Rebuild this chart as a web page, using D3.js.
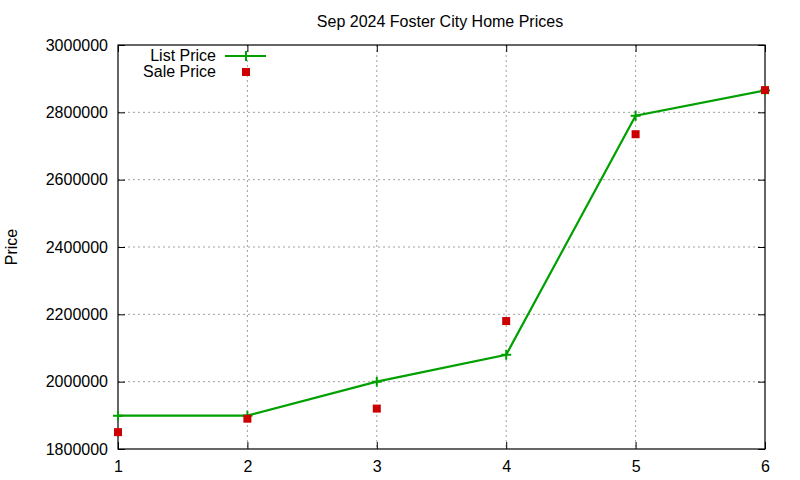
<!DOCTYPE html>
<html><head><meta charset="utf-8">
<script src="https://cdn.jsdelivr.net/npm/d3@7"></script>
<style>body{margin:0;background:#fff}svg{display:block}text{font-family:"Liberation Sans",Arial,sans-serif;fill:#000}</style>
</head><body><svg id="c" width="800" height="480"></svg>
<script>
const categories = [1, 2, 3, 4, 5, 6];
const listPrice = [1899000, 1899000, 2000000, 2080000, 2790000, 2865000];
const salePrice = [1850000, 1890000, 1920000, 2180000, 2735000, 2866000];
const yTicks = [1800000, 2000000, 2200000, 2400000, 2600000, 2800000, 3000000];
const title = "Sep 2024 Foster City Home Prices";

const svg = d3.select("#c");
const L = 118, R = 765, T = 45, B = 449;
const x = d3.scaleLinear().domain([1, 6]).range([L, R]);
const y = d3.scaleLinear().domain([1800000, 3000000]).range([B, T]);
const green = "#00a000", red = "#cc0000";

// grid
const g = svg.append("g");
g.selectAll("line.gx").data(categories.slice(1, -1)).join("line")
  .attr("x1", d => x(d)).attr("x2", d => x(d)).attr("y1", T).attr("y2", B)
  .attr("stroke", "#a0a0a0").attr("stroke-dasharray", "2,3").attr("stroke-width", 1);
g.selectAll("line.gy").data(yTicks.slice(1, -1)).join("line")
  .attr("y1", d => y(d)).attr("y2", d => y(d)).attr("x1", L).attr("x2", R)
  .attr("stroke", "#a0a0a0").attr("stroke-dasharray", "2,3").attr("stroke-width", 1);

// axes
const ax = svg.append("g").attr("transform", `translate(0,${B})`)
  .call(d3.axisBottom(x).tickValues(categories).tickSize(-7).tickPadding(12).tickFormat(d3.format("d")));
const ay = svg.append("g").attr("transform", `translate(${L},0)`)
  .call(d3.axisLeft(y).tickValues(yTicks).tickSize(-7).tickPadding(10).tickFormat(d3.format("d")));
const ay2 = svg.append("g").attr("transform", `translate(${R},0)`)
  .call(d3.axisRight(y).tickValues(yTicks).tickSize(-7).tickFormat(""));
const ax2 = svg.append("g").attr("transform", `translate(0,${T})`)
  .call(d3.axisTop(x).tickValues(categories).tickSize(-7).tickFormat(""));
[ax, ay, ay2, ax2].forEach(a => {
  a.select(".domain").remove();
  a.selectAll("line").attr("stroke", "#000");
  a.selectAll("text").style("font-size", "16px").attr("font-family", '"Liberation Sans",Arial,sans-serif');
});
svg.append("rect").attr("x", L).attr("y", T).attr("width", R - L).attr("height", B - T)
  .attr("fill", "none").attr("stroke", "#000").attr("stroke-width", 1.2);

// list line
const line = d3.line().x((d, i) => x(categories[i])).y(d => y(d));
svg.append("path").datum(listPrice).attr("d", line)
  .attr("fill", "none").attr("stroke", green).attr("stroke-width", 2.2);
const plus = (sel, cx, cy) => sel.append("path")
  .attr("d", `M${cx-5},${cy}H${cx+5}M${cx},${cy-5}V${cy+5}`)
  .attr("stroke", green).attr("stroke-width", 2);
listPrice.forEach((v, i) => plus(svg, x(categories[i]), y(v)));

// sale points
svg.selectAll("rect.s").data(salePrice).join("rect")
  .attr("x", (d, i) => x(categories[i]) - 4).attr("y", d => y(d) - 4)
  .attr("width", 8).attr("height", 8).attr("fill", red);

// legend
svg.append("text").attr("x", 216).attr("y", 61).attr("text-anchor", "end").style("font-size", "16px").text("List Price");
svg.append("line").attr("x1", 225).attr("x2", 266).attr("y1", 56).attr("y2", 56).attr("stroke", green).attr("stroke-width", 2.2);
plus(svg, 246, 56);
svg.append("text").attr("x", 216).attr("y", 77).attr("text-anchor", "end").style("font-size", "16px").text("Sale Price");
svg.append("rect").attr("x", 242).attr("y", 68).attr("width", 8).attr("height", 8).attr("fill", red);

// title & label
svg.append("text").attr("x", 440).attr("y", 27).attr("text-anchor", "middle").style("font-size", "16px").text(title);
svg.append("text").attr("transform", "translate(17,247) rotate(-90)").attr("text-anchor", "middle").style("font-size", "16px").text("Price");
</script></body></html>
